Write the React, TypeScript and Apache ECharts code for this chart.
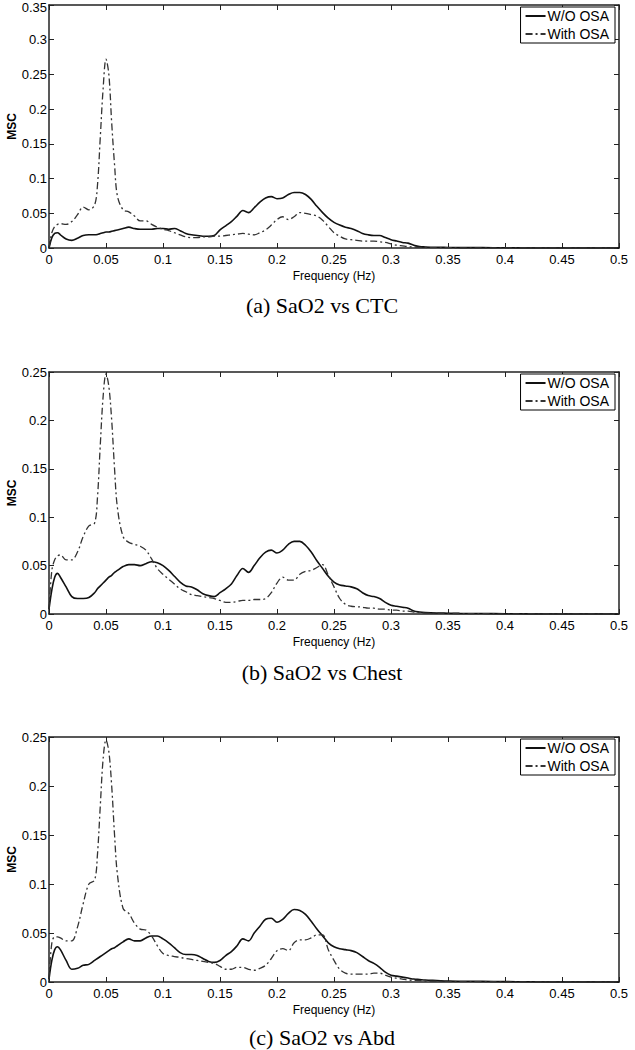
import React, { useEffect, useRef } from "react";
import * as echarts from "echarts";

// Frequency grid (Hz) shared by all curves
const freq = [
  0, 0.0025, 0.005, 0.0075, 0.01, 0.015, 0.02, 0.025, 0.03, 0.035, 0.04,
  0.0425, 0.045, 0.0475, 0.05, 0.0525, 0.055, 0.0575, 0.06,
  0.065, 0.07, 0.075, 0.08, 0.085, 0.09, 0.095, 0.1, 0.105, 0.11, 0.115, 0.12,
  0.125, 0.13, 0.135, 0.14, 0.145, 0.15, 0.155, 0.16, 0.165, 0.17, 0.175, 0.18,
  0.185, 0.19, 0.195, 0.2, 0.205, 0.21, 0.215, 0.22, 0.225, 0.23, 0.235, 0.24,
  0.245, 0.25, 0.255, 0.26, 0.265, 0.27, 0.275, 0.28, 0.285, 0.29, 0.295, 0.3,
  0.305, 0.31, 0.315, 0.32, 0.325, 0.33, 0.34, 0.35, 0.36, 0.38, 0.4, 0.42, 0.45, 0.5,
];

// (a) SaO2 vs CTC
const ctcWithout = [
  0.0, 0.015, 0.021, 0.022, 0.019, 0.013, 0.011, 0.014, 0.018, 0.019, 0.019,
  0.0195, 0.021, 0.022, 0.023, 0.023, 0.024, 0.025, 0.026,
  0.028, 0.03, 0.028, 0.027, 0.027, 0.027, 0.028, 0.028, 0.027, 0.028, 0.025, 0.021,
  0.019, 0.018, 0.017, 0.017, 0.018, 0.026, 0.032, 0.038, 0.046, 0.054, 0.051, 0.058,
  0.066, 0.072, 0.074, 0.071, 0.072, 0.077, 0.08, 0.08, 0.077, 0.07, 0.06, 0.051,
  0.043, 0.037, 0.033, 0.03, 0.028, 0.025, 0.021, 0.019, 0.018, 0.018, 0.015, 0.012,
  0.01, 0.008, 0.007, 0.004, 0.002, 0.0015, 0.001, 0.0008, 0.0006, 0.0005, 0.0003, 0.0001, 0, 0,
];
const ctcWith = [
  0.0, 0.022, 0.031, 0.034, 0.035, 0.034, 0.038, 0.048, 0.059, 0.055, 0.062,
  0.09, 0.16, 0.23, 0.272, 0.25, 0.18, 0.12, 0.075,
  0.055, 0.052, 0.046, 0.039, 0.039, 0.034, 0.03, 0.027, 0.025, 0.022, 0.019, 0.016,
  0.015, 0.015, 0.016, 0.016, 0.017, 0.017, 0.018, 0.019, 0.02, 0.021, 0.02, 0.019,
  0.022, 0.026, 0.033, 0.041, 0.045, 0.041, 0.045, 0.051, 0.05, 0.048, 0.046, 0.04,
  0.031, 0.022, 0.017, 0.013, 0.012, 0.011, 0.01, 0.01, 0.01, 0.009, 0.008, 0.006,
  0.004, 0.003, 0.002, 0.0015, 0.001, 0.0008, 0.0005, 0.0004, 0.0003, 0.0002, 0.0001, 0, 0, 0,
];

// (b) SaO2 vs Chest
const chestWithout = [
  0.005, 0.025, 0.038, 0.042, 0.038, 0.028, 0.018, 0.016, 0.016, 0.017, 0.022,
  0.026, 0.029, 0.032, 0.035, 0.038, 0.04, 0.043, 0.045,
  0.049, 0.051, 0.051, 0.05, 0.052, 0.054, 0.053, 0.05, 0.045, 0.039, 0.033, 0.029,
  0.028, 0.025, 0.021, 0.019, 0.018, 0.022, 0.026, 0.031, 0.04, 0.047, 0.043, 0.05,
  0.058, 0.064, 0.066, 0.063, 0.066, 0.072, 0.075, 0.075, 0.071, 0.064, 0.055, 0.047,
  0.039, 0.033, 0.03, 0.029, 0.028, 0.026, 0.022, 0.019, 0.018, 0.016, 0.012, 0.009,
  0.008, 0.007, 0.006, 0.003, 0.002, 0.0015, 0.001, 0.0008, 0.0006, 0.0005, 0.0003, 0.0001, 0, 0,
];
const chestWith = [
  0.005, 0.045, 0.056, 0.06, 0.061, 0.056, 0.056, 0.064, 0.08, 0.091, 0.094,
  0.12, 0.175, 0.225, 0.248, 0.235, 0.2, 0.15, 0.11,
  0.08, 0.074, 0.072, 0.07, 0.066, 0.057, 0.047, 0.041, 0.036, 0.031, 0.026, 0.023,
  0.02, 0.019, 0.018, 0.017, 0.016, 0.014, 0.012, 0.012, 0.013, 0.014, 0.014, 0.015,
  0.015, 0.016, 0.022, 0.032, 0.038, 0.035, 0.035, 0.041, 0.044, 0.045, 0.048, 0.051,
  0.04, 0.028, 0.016, 0.01, 0.008, 0.0075, 0.007, 0.006, 0.006, 0.005, 0.005, 0.004,
  0.004, 0.003, 0.003, 0.002, 0.0015, 0.001, 0.0008, 0.0006, 0.0005, 0.0003, 0.0002, 0.0001, 0, 0,
];

// (c) SaO2 vs Abd
const abdWithout = [
  0.003, 0.022, 0.033, 0.036, 0.033, 0.022, 0.013, 0.014, 0.017, 0.018, 0.022,
  0.024, 0.026, 0.028, 0.03, 0.032, 0.034, 0.035, 0.037,
  0.041, 0.044, 0.042, 0.042, 0.045, 0.047, 0.047, 0.044, 0.04, 0.035, 0.03, 0.028,
  0.028, 0.027, 0.024, 0.021, 0.02, 0.022, 0.027, 0.031, 0.037, 0.044, 0.042, 0.05,
  0.057, 0.064, 0.065, 0.061, 0.064, 0.07, 0.074, 0.073, 0.069, 0.062, 0.054, 0.047,
  0.04, 0.036, 0.034, 0.033, 0.032, 0.03, 0.026, 0.022, 0.019, 0.015, 0.01, 0.007,
  0.006, 0.005, 0.004, 0.003, 0.0025, 0.002, 0.0015, 0.001, 0.0008, 0.0006, 0.0004, 0.0002, 0, 0,
];
const abdWith = [
  0.003, 0.04, 0.046, 0.046, 0.045, 0.042, 0.042, 0.056, 0.08, 0.1, 0.104,
  0.13, 0.18, 0.228, 0.247, 0.235, 0.2, 0.15, 0.11,
  0.075, 0.07, 0.06, 0.054, 0.053, 0.047, 0.037, 0.029, 0.027, 0.026, 0.025, 0.024,
  0.023, 0.022, 0.021, 0.02, 0.019, 0.016, 0.013, 0.013, 0.015, 0.015, 0.013, 0.012,
  0.014, 0.017, 0.024, 0.032, 0.034, 0.032, 0.04, 0.043, 0.043, 0.045, 0.048, 0.048,
  0.033, 0.022, 0.013, 0.009, 0.008, 0.008, 0.008, 0.008, 0.009, 0.009, 0.007, 0.005,
  0.004, 0.003, 0.002, 0.0017, 0.0015, 0.001, 0.0008, 0.0006, 0.0004, 0.0003, 0.0002, 0.0001, 0, 0,
];

const seriesNames = ["W/O OSA", "With OSA"];
const captions = ["(a) SaO2 vs CTC", "(b) SaO2 vs Chest", "(c) SaO2 vs Abd"];
const yMaxes = [0.35, 0.25, 0.25];
const panelData = [
  [ctcWithout, ctcWith],
  [chestWithout, chestWith],
  [abdWithout, abdWith],
];

// layout (pixels)
const grids = [
  { top: 5, height: 243 },
  { top: 372, height: 242 },
  { top: 737, height: 245 },
];
const captionY = [305, 672, 1037];
const GL = 49;
const GW = 570;

const SANS = "'Liberation Sans', Arial, Helvetica, sans-serif";
const SERIF = "'Liberation Serif', 'Times New Roman', serif";
const AXIS_COLOR = "#222";

export default function App() {
  const ref = useRef<HTMLDivElement>(null);

  useEffect(() => {
    if (!ref.current) return;
    const chart = echarts.init(ref.current, undefined, { renderer: "svg" });

    const gridOpts: any[] = [];
    const xAxes: any[] = [];
    const yAxes: any[] = [];
    const series: any[] = [];
    const legends: any[] = [];
    const graphics: any[] = [];

    grids.forEach((g, i) => {
      gridOpts.push({
        left: GL, top: g.top, width: GW, height: g.height,
        containLabel: false, outerBoundsMode: "none",
      });
      const tickStyle = { show: true, inside: true, length: 5, lineStyle: { color: AXIS_COLOR, width: 1 } };
      const lineStyle = { show: true, onZero: false, lineStyle: { color: AXIS_COLOR, width: 1.5 } };
      // bottom x
      xAxes.push({
        type: "value", gridIndex: i, min: 0, max: 0.5, interval: 0.05, position: "bottom",
        axisLine: lineStyle, axisTick: tickStyle, splitLine: { show: false },
        axisLabel: { color: "#000", fontSize: 13, fontFamily: SANS, margin: 5 },
        name: "Frequency (Hz)", nameLocation: "middle", nameGap: 22,
        nameTextStyle: { color: "#000", fontSize: 12, fontFamily: SANS },
      });
      // top x (frame)
      xAxes.push({
        type: "value", gridIndex: i, min: 0, max: 0.5, interval: 0.05, position: "top",
        axisLine: lineStyle, axisTick: tickStyle, splitLine: { show: false },
        axisLabel: { show: false },
      });
      // left y
      const yMax = yMaxes[i];
      yAxes.push({
        type: "value", gridIndex: i, min: 0, max: yMax, interval: 0.05, position: "left",
        axisLine: lineStyle, axisTick: tickStyle, splitLine: { show: false },
        axisLabel: {
          color: "#000", fontSize: 13, fontFamily: SANS, margin: 2,
          formatter: (v: number) =>
            Math.abs(v - yMax) < 1e-9 && i === 0 ? `{top|${+v.toFixed(2)}}` : `${+v.toFixed(2)}`,
          rich: { top: { fontSize: 13, fontFamily: SANS, color: "#000", padding: [4, 0, 0, 0] } },
        },
      });
      // right y (frame)
      yAxes.push({
        type: "value", gridIndex: i, min: 0, max: yMax, interval: 0.05, position: "right",
        axisLine: lineStyle, axisTick: tickStyle, splitLine: { show: false },
        axisLabel: { show: false },
      });

      const [wo, w] = panelData[i];
      series.push({
        name: seriesNames[0], type: "line", xAxisIndex: i * 2, yAxisIndex: i * 2,
        data: freq.map((f, k) => [f, wo[k]]),
        showSymbol: false, symbol: "none", smooth: 0.35,
        lineStyle: { color: "#111", width: 1.6, type: "solid" },
        itemStyle: { color: "#111" },
      });
      series.push({
        name: seriesNames[1], type: "line", xAxisIndex: i * 2, yAxisIndex: i * 2,
        data: freq.map((f, k) => [f, w[k]]),
        showSymbol: false, symbol: "none", smooth: 0.35,
        lineStyle: { color: "#333", width: 1.3, type: [7, 3, 2, 3] },
        itemStyle: { color: "#333" },
      });

      legends.push({
        right: 20, top: g.top + 2, orient: "vertical",
        data: seriesNames,
        itemWidth: 20, itemHeight: 10, itemGap: 4,
        borderColor: "#000", borderWidth: 1, padding: [2, 6, 2, 4],
        backgroundColor: "#fff",
        itemStyle: { opacity: 0 },
        textStyle: { color: "#000", fontSize: 14, fontFamily: SANS, padding: [0, 0, 0, -3] },
        selectedMode: false,
      });

      // y-axis title
      graphics.push({
        type: "text", x: 12, y: g.top + g.height / 2, rotation: Math.PI / 2,
        style: {
          text: "MSC", fontSize: 12, fontWeight: "bold", fontFamily: SANS, fill: "#000",
          textAlign: "center", textVerticalAlign: "middle",
        },
      });

      graphics.push({
        type: "text", x: 322, y: captionY[i],
        style: {
          text: captions[i], fontSize: 22, fontFamily: SERIF, fill: "#000",
          textAlign: "center", textVerticalAlign: "middle",
        },
      });
    });

    chart.setOption({
      animation: false,
      backgroundColor: "#fff",
      grid: gridOpts,
      xAxis: xAxes,
      yAxis: yAxes,
      series,
      legend: legends,
      graphic: graphics,
    });

    return () => chart.dispose();
  }, []);

  return (
    <div
      ref={ref}
      style={{ position: "absolute", left: 0, top: 0, width: 635, height: 1050, background: "#fff" }}
    />
  );
}
